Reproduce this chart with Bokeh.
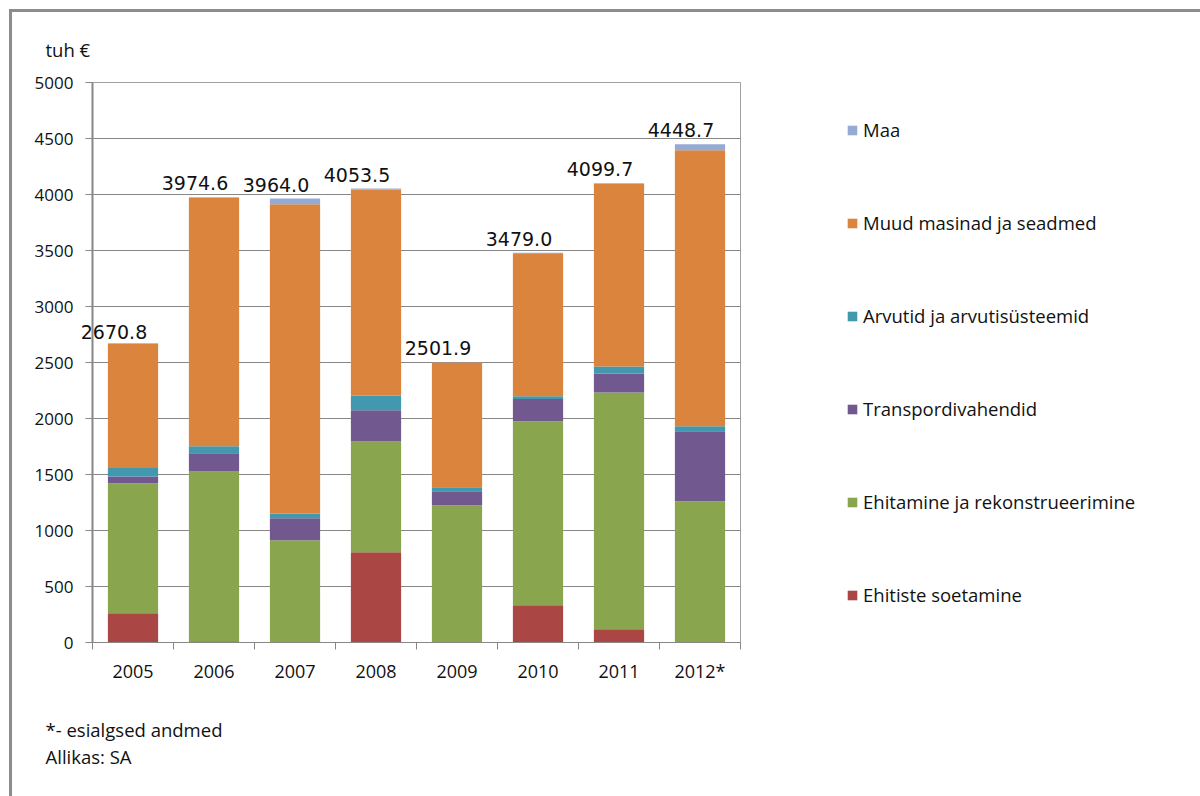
from bokeh.plotting import figure
from bokeh.models import (Range1d, FixedTicker, Legend, LegendItem, Label,
                          LabelSet, ColumnDataSource)
from bokeh.core.properties import value
from bokeh.layouts import row
from bokeh.embed import file_html
from bokeh.resources import INLINE

# ---------------- data ----------------
years = ["2005", "2006", "2007", "2008", "2009", "2010", "2011", "2012*"]
ehitiste_soetamine = [262, 12, 0, 806, 0, 333, 119, 0]
ehitamine = [1160, 1515, 914, 989, 1226, 1643, 2113, 1262]
transpordivahendid = [60, 163, 196, 279, 125, 197, 170, 625]
arvutid = [75, 63, 42, 131, 36, 26, 62, 44]
muud_masinad = [1108.8, 2219.6, 2762.0, 1836.5, 1111.9, 1270.0, 1629.7, 2464.7]
maa = [5, 2, 50, 12, 3, 10, 6, 53]
totals = [2670.8, 3974.6, 3964.0, 4053.5, 2501.9, 3479.0, 4099.7, 4448.7]

series_names = ["Ehitiste soetamine", "Ehitamine ja rekonstrueerimine",
                "Transpordivahendid", "Arvutid ja arvutisüsteemid",
                "Muud masinad ja seadmed", "Maa"]
series_colors = ["#AA4643", "#89A54E", "#71588F", "#4198AF", "#DB843D", "#95ABD3"]
y_ticks = [0, 500, 1000, 1500, 2000, 2500, 3000, 3500, 4000, 4500, 5000]

TXT = "#111111"
GRID = "#878787"
PANEL_DY = 6  # side-panel Labels sit slightly lower than glyph text

# ---------------- main chart ----------------
p = figure(width=748, height=784, output_backend="svg", toolbar_location=None,
           x_range=Range1d(0, len(years)), y_range=Range1d(0, 5000),
           min_border_left=80, min_border_right=20, min_border_top=70,
           min_border_bottom=154)
p.background_fill_color = "white"
p.border_fill_color = "white"
p.outline_line_color = "#a0a0a0"
p.outline_line_width = 1

xs = [i + 0.5 for i in range(len(years))]
keys = ["s0", "s1", "s2", "s3", "s4", "s5"]
data = {"x": xs}
for k, arr in zip(keys, [ehitiste_soetamine, ehitamine, transpordivahendid,
                         arvutid, muud_masinad, maa]):
    data[k] = arr
src = ColumnDataSource(data)
p.vbar_stack(keys, x="x", width=0.62, source=src, color=series_colors,
             line_color=None)

# value labels
LAB_DX, LAB_DY = -19, 7
# the first label overhangs the y axis, so it lives in a side panel (no clipping)
p.add_layout(Label(x=xs[0], y=totals[0], text=f"{totals[0]:.1f}",
                   x_offset=LAB_DX, y_offset=LAB_DY + PANEL_DY - 2,
                   text_align="center", text_baseline="alphabetic",
                   text_font="DejaVu Sans", text_font_size="19px",
                   text_color=TXT), "below")
lab_src = ColumnDataSource(dict(x=xs[1:], y=totals[1:],
                                t=[f"{v:.1f}" for v in totals[1:]]))
p.add_layout(LabelSet(x="x", y="y", text="t", source=lab_src,
                      x_offset=LAB_DX, y_offset=LAB_DY,
                      text_align="center", text_baseline="alphabetic",
                      text_font=value("DejaVu Sans"), text_font_size=value("19px"),
                      text_color=TXT))

# grid / axes
p.xgrid.grid_line_color = None
p.ygrid.grid_line_color = GRID
p.ygrid.grid_line_width = 1

xa = p.xaxis[0]
xa.ticker = FixedTicker(ticks=xs, minor_ticks=list(range(len(years) + 1)))
xa.major_label_overrides = {x: y for x, y in zip(xs, years)}
xa.major_tick_line_color = None
xa.major_tick_out = 0
xa.major_tick_in = 0
xa.minor_tick_line_color = GRID
xa.minor_tick_out = 7
xa.minor_tick_in = 0
xa.axis_line_color = GRID
xa.major_label_standoff = 9
xa.major_label_text_font = "Open Sans"
xa.major_label_text_font_size = "18px"
xa.major_label_text_color = TXT

ya = p.yaxis[0]
ya.ticker = FixedTicker(ticks=y_ticks)
ya.axis_line_color = GRID
ya.axis_line_width = 2
ya.major_tick_line_color = GRID
ya.major_tick_out = 7
ya.major_tick_in = 0
ya.minor_tick_line_color = None
ya.major_label_standoff = 12
ya.major_label_text_font = "Open Sans"
ya.major_label_text_font_size = "17px"
ya.major_label_text_color = TXT

common = dict(text_font="Open Sans", text_color=TXT, y_offset=PANEL_DY,
              text_baseline="alphabetic", text_font_size="18.5px")
p.add_layout(Label(x=-0.58, y=5241, text="tuh €", **common), "below")
p.add_layout(Label(x=-0.58, y=-830, text="*- esialgsed andmed", **common), "below")
p.add_layout(Label(x=-0.58, y=-1069, text="Allikas: SA", **common), "below")

# ---------------- legend panel ----------------
q = figure(width=440, height=784, output_backend="svg", toolbar_location=None,
           x_range=Range1d(0, 1), y_range=Range1d(0, 1),
           x_axis_location=None, y_axis_location=None, min_border=0)
q.outline_line_color = None
q.grid.grid_line_color = None
q.background_fill_color = "white"
q.border_fill_color = "white"
# off-range swatch renderers: only their legend glyphs are visible
swatches = [q.vbar(x=[5], top=[1], width=0.1, color=c, line_color=None)
            for c in series_colors]
items = [LegendItem(label=n, renderers=[r]) for n, r in zip(series_names, swatches)]
legend = Legend(items=items[::-1], location=(86, 35), orientation="vertical",
                glyph_width=12, glyph_height=12, label_height=24,
                label_standoff=5, spacing=68, padding=0, margin=0,
                label_text_font="Open Sans", label_text_font_size="18.5px",
                label_text_color=TXT, background_fill_alpha=0,
                border_line_color=None)
q.add_layout(legend, "center")

layout = row(p, q)
layout.styles = {"margin-left": "9px", "margin-top": "9px",
                 "border-top": "3px solid #8c8c8c",
                 "border-left": "3px solid #8c8c8c"}

open("out.html", "w").write(file_html(layout, INLINE))
